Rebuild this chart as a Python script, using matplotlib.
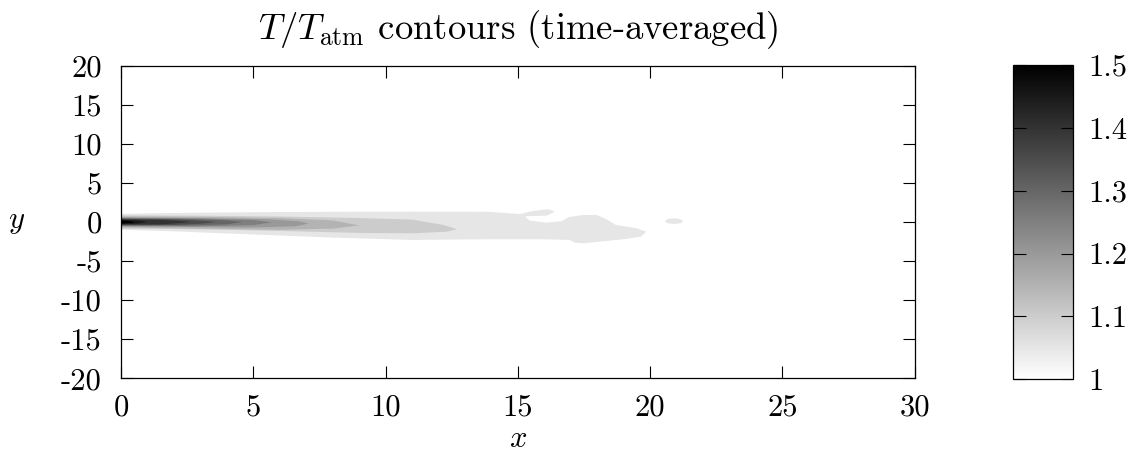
import numpy as np
import matplotlib
matplotlib.use("Agg")
import matplotlib.pyplot as plt
from matplotlib.colors import LinearSegmentedColormap, Normalize
from matplotlib.cm import ScalarMappable

plt.rcParams['font.family'] = 'cmr10'
plt.rcParams['mathtext.fontset'] = 'cm'
plt.rcParams['axes.unicode_minus'] = False
plt.rcParams['font.size'] = 22

# contour levels (value of T/Tatm at the outer edge of each filled band)
levels = [1.05, 1.10, 1.15, 1.20, 1.25, 1.30, 1.35, 1.40, 1.45, 1.50]

# outline of the 1.05 region (main plume incl. the crescent near x=16)
outer_x = [0, 2, 5, 8, 11, 13.9, 15.1, 15.45, 15.9, 16.15, 16.4, 16.08, 15.58,
           15.26, 15.45, 16.08, 16.65, 16.9, 17.47, 17.97, 18.35, 18.7, 19.5,
           19.85, 19.65, 19.0, 18.1, 17.5, 17.15, 16.95, 15.8, 13.9, 11, 8, 5,
           2, 0]
outer_y = [1.05, 1.15, 1.25, 1.3, 1.32, 1.3, 1.0, 1.32, 1.55, 1.62, 1.32, 0.81,
           0.77, 0.7, 0.17, -0.09, 0.09, 0.6, 0.9, 0.9, 0.34, -0.38, -0.81,
           -1.24, -1.88, -2.21, -2.52, -2.73, -2.64, -2.3, -2.21, -2.21, -2.3,
           -2.0, -1.6, -1.2, -1.0]

# small detached blob near x=21
blob_x = [20.56, 20.65, 20.9, 21.15, 21.25, 21.15, 20.9, 20.65]
blob_y = [0.1, 0.35, 0.47, 0.35, 0.1, -0.16, -0.26, -0.16]

# inner bands, one outline per level
band_x = [
    [0, 3, 6, 9, 11, 12.2, 12.7, 12.3, 11, 9, 6, 3, 0],
    [0, 3, 6, 8, 9.0, 8, 6, 3, 0],
    [0, 3, 5.5, 6.7, 7.1, 6.6, 5, 3, 0],
    [0, 3, 5, 5.7, 5, 3, 0],
    [0, 2.5, 4, 4.6, 4, 2.5, 0],
    [0, 2, 3.1, 3.6, 3.1, 2, 0],
    [0, 1.5, 2.3, 2.6, 2.3, 1.5, 0],
    [0, 0.6, 1.0, 0.6, 0],
    [0, 0.3, 0.44, 0.3, 0],
]
band_y = [
    [0.85, 0.8, 0.7, 0.5, 0.3, -0.4, -0.93, -1.25, -1.45, -1.4, -1.15, -0.95, -0.85],
    [0.7, 0.65, 0.5, 0.2, -0.45, -0.85, -1.0, -0.85, -0.7],
    [0.6, 0.5, 0.35, 0.1, -0.2, -0.55, -0.7, -0.65, -0.6],
    [0.5, 0.42, 0.25, -0.05, -0.4, -0.55, -0.5],
    [0.45, 0.38, 0.2, 0.0, -0.3, -0.45, -0.45],
    [0.4, 0.33, 0.15, 0.0, -0.2, -0.38, -0.4],
    [0.33, 0.27, 0.1, 0.0, -0.12, -0.3, -0.33],
    [0.27, 0.2, 0.0, -0.2, -0.27],
    [0.2, 0.1, 0.0, -0.1, -0.2],
]

xticks = [0, 5, 10, 15, 20, 25, 30]
yticks = [-20, -15, -10, -5, 0, 5, 10, 15, 20]
cticks = [1, 1.1, 1.2, 1.3, 1.4, 1.5]
ctick_labels = ['1', '1.1', '1.2', '1.3', '1.4', '1.5']

cmap = LinearSegmentedColormap.from_list('wk', ['white', 'black'])
norm = Normalize(vmin=1.0, vmax=1.5)

fig = plt.figure(figsize=(11.46, 4.66), dpi=100)
ax = fig.add_axes([0.1058, 0.1882, 0.6923, 0.6710])

# filled contour bands
ax.fill(outer_x, outer_y, color=cmap(norm(levels[0])), lw=0)
ax.fill(blob_x, blob_y, color=cmap(norm(levels[0])), lw=0)
for lev, bx, by in zip(levels[1:], band_x, band_y):
    ax.fill(bx, by, color=cmap(norm(lev)), lw=0)

ax.set_xlim(0, 30)
ax.set_ylim(-20, 20)
ax.set_xticks(xticks)
ax.set_yticks(yticks)
ax.tick_params(direction='in', length=8.5, width=0.8, top=True, right=True)
ax.tick_params(axis='y', pad=14)
ax.tick_params(axis='x', pad=11)
for s in ax.spines.values():
    s.set_linewidth(0.9)

ax.set_title(r'$T/T_{\rm atm}$ contours (time-averaged)', pad=19)
ax.set_xlabel(r'$x$', labelpad=3)
ax.set_ylabel(r'$y$', rotation=0, labelpad=32, va='center')

# colour bar
cax = fig.add_axes([0.8842, 0.186, 0.0524, 0.6745])
sm = ScalarMappable(norm=norm, cmap=cmap)
cb = fig.colorbar(sm, cax=cax)
cb.set_ticks(cticks)
cb.set_ticklabels(ctick_labels)
cb.outline.set_linewidth(0.9)
cax.tick_params(axis='y', direction='in', length=9, width=0.8, left=True,
                right=True, labelleft=False, labelright=True, pad=11)

fig.savefig('out.png', dpi=100)
